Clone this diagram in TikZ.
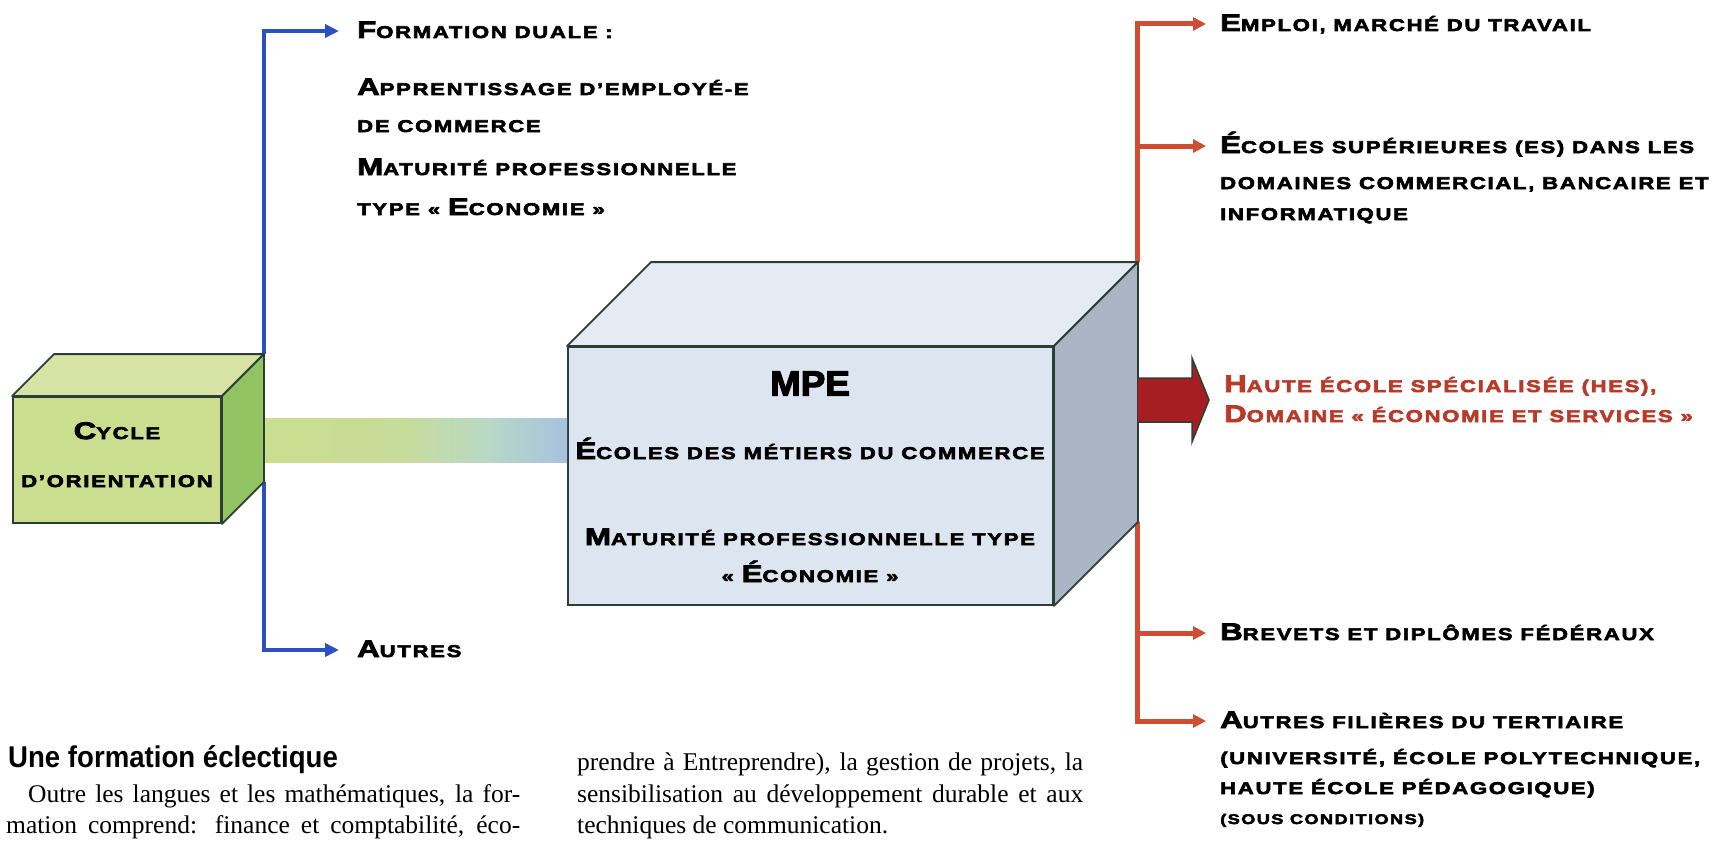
\documentclass[tikz,border=0pt]{standalone}
\usepackage{fontspec}
\setmainfont{Liberation Serif}
\newfontfamily\blk{Liberation Sans Bold}[FakeStretch=1.3,FakeBold=3.5,LetterSpace=10]
\newfontfamily\blkt{Liberation Sans Bold}[FakeStretch=1.05,FakeBold=3.5]
\newfontfamily\cond{Liberation Sans Bold}[FakeStretch=0.92]
\usetikzlibrary{positioning,calc,arrows.meta}

\definecolor{cyfront}{HTML}{CBDD8F}
\definecolor{cytop}{HTML}{D7E4A6}
\definecolor{cyside}{HTML}{93C463}
\definecolor{mpefront}{HTML}{DCE5F0}
\definecolor{mpetop}{HTML}{E4EBF3}
\definecolor{mpeside}{HTML}{A9B5C5}
\definecolor{cubeline}{HTML}{2C3E36}
\definecolor{lineblue}{HTML}{2B50C0}
\definecolor{linered}{HTML}{CF4E33}
\definecolor{hesfill}{HTML}{A71E22}
\definecolor{hestext}{HTML}{B83A2A}
\definecolor{barmid}{HTML}{B9D8C6}
\definecolor{barblue}{HTML}{A7C2DF}

\pgfdeclarehorizontalshading{barshade}{100bp}{color(0bp)=(cyfront); color(25bp)=(cyfront);
  color(48bp)=(cyfront!80!barmid); color(62bp)=(barmid); color(75bp)=(barblue); color(100bp)=(barblue)}

% small caps by hand
\newcommand\sm[1]{{\fontsize{17pt}{17pt}\selectfont #1}}
\newcommand\tn[1]{{\fontsize{14pt}{14pt}\selectfont #1}}

\tikzset{
  lbl/.style={anchor=west, inner sep=0pt, text height=14pt, text depth=0pt,
    font=\blk\fontsize{24pt}{24pt}\selectfont},
  ctr/.style={lbl, anchor=center},
  hes/.style={lbl, text=hestext},
  body/.style={anchor=base west, inner sep=0pt, font=\fontsize{25.5pt}{25.5pt}\selectfont},
  face/.style={draw=cubeline, line width=1.8pt, inner sep=0pt},
  cubeedge/.style={draw=cubeline, line width=1.8pt, line join=round},
  blueline/.style={draw=lineblue, line width=4pt, -{Triangle[length=14pt,width=13pt]}},
  redline/.style={draw=linered, line width=5pt, -{Triangle[length=13pt,width=13pt]}},
}

\begin{document}
\begin{tikzpicture}[x=1pt,y=-1pt]
  \fill[white] (0,0) rectangle (1729,843);
  \useasboundingbox (0,0) rectangle (1729,843);

  % left labels
  \node[lbl] (dual1) at (357,31) {F\sm{ORMATION DUALE :}};
  \node[lbl] (dual2) at (357,88) {A\sm{PPRENTISSAGE D’EMPLOYÉ-E}};
  \node[lbl] (dual3) at (357,125) {\sm{DE COMMERCE}};
  \node[lbl] (dual4) at (357,168) {M\sm{ATURITÉ PROFESSIONNELLE}};
  \node[lbl] (dual5) at (357,208) {\sm{TYPE « }E\sm{CONOMIE »}};
  \node[lbl] (autres) at (357,650) {A\sm{UTRES}};

  % right labels
  \node[lbl] (emploi) at (1220,24) {E\sm{MPLOI, MARCHÉ DU TRAVAIL}};
  \node[lbl] (es1) at (1220,146) {É\sm{COLES SUPÉRIEURES (ES) DANS LES}};
  \node[lbl] (es2) at (1220,182) {\sm{DOMAINES COMMERCIAL, BANCAIRE ET}};
  \node[lbl] (es3) at (1220,213) {\sm{INFORMATIQUE}};
  \node[hes] (hes1) at (1224,385) {H\sm{AUTE ÉCOLE SPÉCIALISÉE (HES),}};
  \node[hes] (hes2) at (1224,415) {D\sm{OMAINE « ÉCONOMIE ET SERVICES »}};
  \node[lbl] (brevets) at (1220,633) {B\sm{REVETS ET DIPLÔMES FÉDÉRAUX}};
  \node[lbl] (tert1) at (1220,721) {A\sm{UTRES FILIÈRES DU TERTIAIRE}};
  \node[lbl] (tert2) at (1220,757) {\sm{(UNIVERSITÉ, ÉCOLE POLYTECHNIQUE,}};
  \node[lbl] (tert3) at (1220,787) {\sm{HAUTE ÉCOLE PÉDAGOGIQUE)}};
  \node[lbl] (tert4) at (1220,817) {\tn{(SOUS CONDITIONS)}};

  % cube fronts
  \node[face, fill=cyfront, minimum width=208pt, minimum height=126pt] (cycle) at (117,460) {};
  \node[face, fill=mpefront, minimum width=485pt, minimum height=258pt] (mpe) at (810.5,476) {};
  \coordinate (btop) at ($(cycle.north east)+(42,-42)$);
  \coordinate (bbot) at ($(cycle.south east)+(42,-42)$);
  \coordinate (rtop) at ($(mpe.north east)+(84,-84)$);
  \coordinate (rbot) at ($(mpe.south east)+(84,-84)$);

  % connectors
  \draw[blueline] (btop) |- ([xshift=-18pt]dual1.west);
  \draw[blueline] (bbot) |- ([xshift=-18pt]autres.west);
  \draw[redline] (rtop) |- ([xshift=-14pt]emploi.west);
  \draw[redline] (rtop) |- ([xshift=-14pt]es1.west);
  \draw[redline] (rbot) |- ([xshift=-14pt]brevets.west);
  \draw[redline] (rbot) |- ([xshift=-14pt]tert1.west);
  \shade[shading=barshade] (btop |- 0,418) rectangle (mpe.west |- 0,462);

  % cube faces
  \filldraw[cubeedge, fill=cytop] (cycle.north west) -- ++(42,-42) -- (btop) -- (cycle.north east) -- cycle;
  \filldraw[cubeedge, fill=cyside] (cycle.north east) -- (btop) -- (bbot) -- (cycle.south east) -- cycle;
  \filldraw[cubeedge, fill=mpetop] (mpe.north west) -- ++(84,-84) -- (rtop) -- (mpe.north east) -- cycle;
  \filldraw[cubeedge, fill=mpeside] (mpe.north east) -- (rtop) -- (rbot) -- (mpe.south east) -- cycle;

  % block arrow to HES
  \filldraw[fill=hesfill, draw=cubeline, line width=1.5pt, line join=miter]
    (rtop |- 0,378) -- (1192,378) -- (1192,358) -- ([xshift=-15pt]hes1.west |- 0,400)
    -- (1192,442) -- (1192,422) -- (rtop |- 0,422);

  % cube texts
  \node[ctr] (cy1) at (117,432) {C\sm{YCLE}};
  \node[ctr] (cy2) at (117,480) {\sm{D’ORIENTATION}};
  \node[ctr, font=\blkt\fontsize{35pt}{35pt}\selectfont, text height=25pt] (mpet) at (810,383) {MPE};
  \node[ctr] (mpe1) at (810,452) {É\sm{COLES DES MÉTIERS DU COMMERCE}};
  \node[ctr] (mpe2) at (810,538) {M\sm{ATURITÉ PROFESSIONNELLE TYPE}};
  \node[ctr] (mpe3) at (810,575) {\sm{« }É\sm{CONOMIE »}};

  % text below
  \node[body, font=\cond\fontsize{30pt}{30pt}\selectfont] (titre) at (8,767) {Une formation éclectique};
  \node[body] (g1) at (28,802) {\makebox[492pt][s]{Outre les langues et les mathématiques, la for-}};
  \node[body] (g2) at (6,833) {\makebox[514pt][s]{mation comprend: finance et comptabilité, éco-}};
  \node[body] (d1) at (577,770) {\makebox[506pt][s]{prendre à Entreprendre), la gestion de projets, la}};
  \node[body] (d2) at (577,802) {\makebox[506pt][s]{sensibilisation au développement durable et aux}};
  \node[body] (d3) at (577,833) {techniques de communication.};
\end{tikzpicture}
\end{document}
